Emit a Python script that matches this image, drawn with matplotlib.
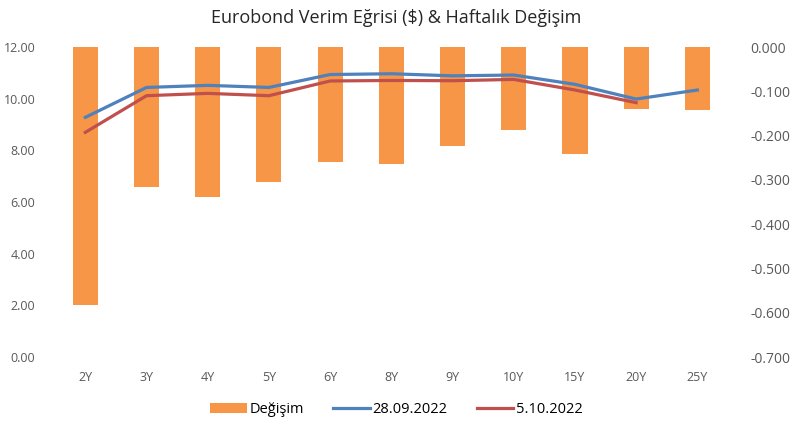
import numpy as np
import matplotlib.pyplot as plt

plt.rcParams['font.family'] = ['Open Sans', 'DejaVu Sans']

vade = ['2Y', '3Y', '4Y', '5Y', '6Y', '8Y', '9Y', '10Y', '15Y', '20Y', '25Y']
degisim = [-0.583, -0.316, -0.338, -0.304, -0.260, -0.264, -0.223, -0.187, -0.242, -0.140, -0.142]
verim_2809 = [9.28, 10.44, 10.52, 10.44, 10.94, 10.97, 10.89, 10.92, 10.56, 9.99, 10.34]
verim_0510 = [8.70, 10.12, 10.21, 10.12, 10.69, 10.71, 10.70, 10.75, 10.34, 9.85]

orange = '#F79646'
blue = '#4F81BD'
red = '#C0504D'
gray = '#595959'

fig = plt.figure(figsize=(7.93, 4.21), dpi=100)
ax = fig.add_axes([0.069, 0.152, 0.849, 0.736])
ax2 = ax.twinx()

x = np.arange(len(vade))
b = ax2.bar(x, degisim, width=0.41, color=orange, label='Değişim')
rt = np.round(np.arange(-0.7, 0.01, 0.1), 3)
ax2.set_ylim(-0.7, 0)
ax2.set_yticks(rt)
ax2.set_yticklabels(['%.3f' % v if v != 0 else '0.000' for v in rt])

l1, = ax.plot(x, verim_2809, color=blue, lw=2.3, label='28.09.2022')
l2, = ax.plot(x[:len(verim_0510)], verim_0510, color=red, lw=2.3, label='5.10.2022')
ax.set_ylim(0, 12)
ax.set_yticks(np.arange(0, 12.1, 2))
ax.set_yticklabels(['%.2f' % v for v in np.arange(0, 12.1, 2)])
ax.set_xlim(-0.5, len(vade) - 0.5)
ax.set_xticks(x)
ax.set_xticklabels(vade)

ax.set_zorder(ax2.get_zorder() + 1)
ax.patch.set_visible(False)

for a in (ax, ax2):
    for s in a.spines.values():
        s.set_visible(False)
    a.tick_params(length=0, colors=gray, labelsize=9)
ax.tick_params(axis='y', pad=14)
ax2.tick_params(axis='y', pad=16, labelsize=10)
ax.tick_params(axis='x', pad=10)

fig.text(0.5, 0.958, 'Eurobond Verim Eğrisi ($) & Haftalık Değişim',
         ha='center', va='center', fontsize=13, color='#262626')

fig.legend([b, l1, l2], ['Değişim', '28.09.2022', '5.10.2022'],
           loc='center', bbox_to_anchor=(0.5, 0.027), ncol=3, frameon=False,
           fontsize=10.5, handlelength=2.5, columnspacing=2.0, handletextpad=0.2)

fig.savefig('out.png', dpi=100)
